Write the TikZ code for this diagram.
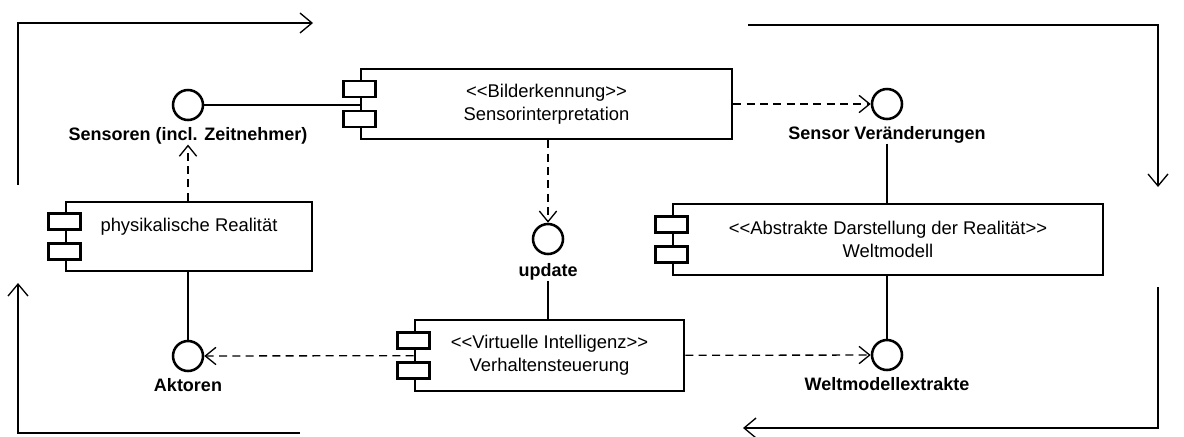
\documentclass[tikz,border=0pt]{standalone}
\usepackage{fontspec}
\setmainfont{Liberation Sans}
\usetikzlibrary{arrows.meta,positioning,calc}

\begin{document}
\begin{tikzpicture}[
    x=0.75pt, y=-0.75pt,
    font=\fontsize{13.8}{17}\selectfont,
    comp/.style={rectangle, draw, line width=2pt, fill=white, align=center, inner sep=0pt},
    tab/.style={draw, line width=2pt, fill=white},
    iface/.style={circle, draw, line width=1.9pt, minimum size=22.5pt, inner sep=0pt},
    ilabel/.style={font=\fontsize{13.5}{16}\selectfont\bfseries, inner sep=0pt},
    link/.style={line width=1pt},
    dep/.style={-{Straight Barb[length=8pt,width=13pt]}, line width=1pt, dash pattern=on 6pt off 4pt},
    flow/.style={-{Straight Barb[length=9pt,width=15pt]}, line width=1pt}
]
\useasboundingbox (0,0) rectangle (1184,436);

% Components
\node[comp, minimum width=278.25pt, minimum height=52.5pt] (interp) at (546.5,104) {<{}<Bilderkennung>{}>\\Sensorinterpretation};
\node[comp, minimum width=184.5pt, minimum height=51.75pt] (real) at (189,236.5) {physikalische Realität\\\mbox{}};
\node[comp, minimum width=322.5pt, minimum height=53.25pt] (welt) at (888,239.5) {<{}<Abstrakte Darstellung der Realität>{}>\\Weltmodell};
\node[comp, minimum width=201.75pt, minimum height=53.25pt] (verh) at (549.5,355.5) {<{}<Virtuelle Intelligenz>{}>\\Verhaltensteuerung};

% Component tabs
\foreach \comp in {interp,real,welt,verh} {
    \draw[tab] ($(\comp.west)+(-16,-23)$) rectangle ($(\comp.west)+(16,-7)$);
    \draw[tab] ($(\comp.west)+(-16,7)$) rectangle ($(\comp.west)+(16,23)$);
}

% Interfaces
\node[iface] (sens) at (188,105) {};
\node[iface] (sensV) at (887,104) {};
\node[iface] (upd) at (548,239) {};
\node[iface] (akt) at (188,356) {};
\node[iface] (wextr) at (887,355) {};

\node[ilabel, below=4.5pt of sens] (sensL) {Sensoren (incl. Zeitnehmer)};
\node[ilabel, below=4.5pt of sensV] (sensVL) {Sensor Veränderungen};
\node[ilabel, below=6pt of upd] (updL) {update};
\node[ilabel, below=4.5pt of akt] (aktL) {Aktoren};
\node[ilabel, below=4.5pt of wextr] (wextrL) {Weltmodellextrakte};

% Connections
\draw[link] (sens) -- (sens -| interp.west);
\draw[link] (sensVL.south) -- (sensVL.south |- welt.north);
\draw[link] (updL.south) -- (updL.south |- verh.north);
\draw[link] (real.south -| akt) -- (akt);
\draw[link] (welt.south -| wextr) -- (wextr);

% Dependencies
\draw[dep] (interp) -- (sensV);
\draw[dep] (interp.south -| upd) -- (upd);
\draw[dep] (real.north -| sensL) -- (sensL);
\draw[dep] (verh) -- (akt);
\draw[dep] (verh) -- (wextr);

% Cycle
\coordinate (tlA) at (18,185);
\coordinate (tlB) at (313,23);
\coordinate (trA) at (748,25);
\coordinate (trB) at (1158,187);
\coordinate (brA) at (1158,287);
\coordinate (brB) at (743,428);
\coordinate (blA) at (300,433);
\coordinate (blB) at (18,283);
\draw[flow] (tlA) |- (tlB);
\draw[flow] (trA) -| (trB);
\draw[flow] (brA) |- (brB);
\draw[flow] (blA) -| (blB);

\end{tikzpicture}
\end{document}
